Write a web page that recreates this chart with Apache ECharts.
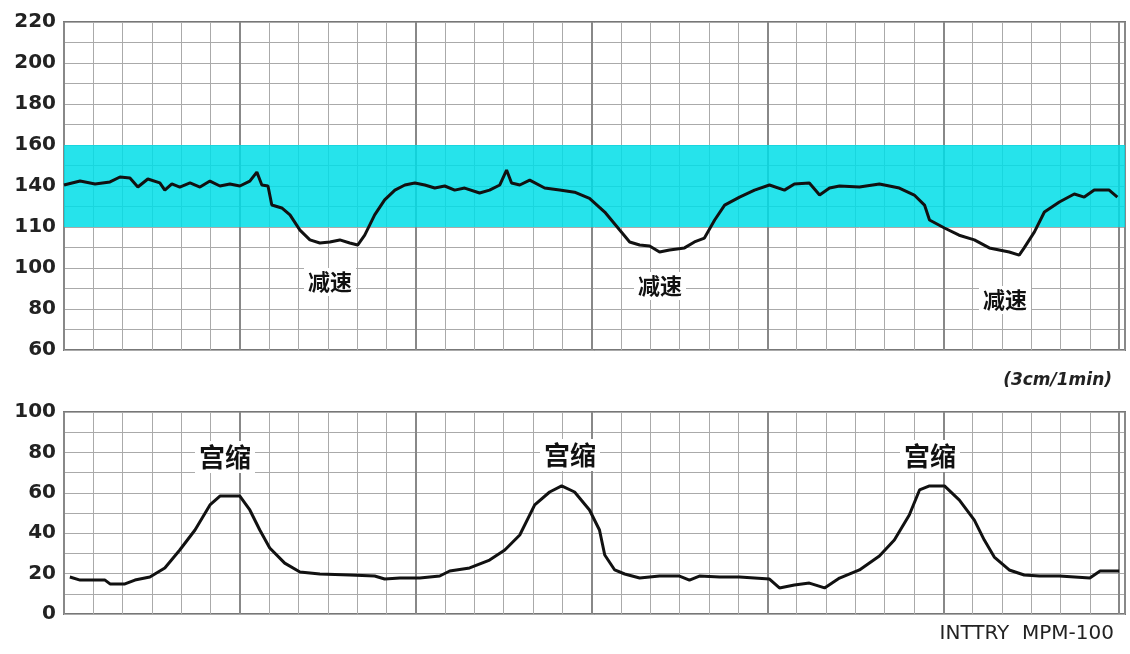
<!DOCTYPE html>
<html><head><meta charset="utf-8">
<script src="https://cdn.jsdelivr.net/npm/echarts@6/dist/echarts.min.js"></script>
<style>html,body{margin:0;padding:0;background:#fff}#c{width:1130px;height:654px}</style>
</head><body><div id="c"></div>
<script>
const hrX=[0,.55,1.06,1.57,1.91,2.25,2.52,2.86,3.27,3.44,3.68,3.95,4.3,4.64,4.98,5.32,5.66,6.0,6.34,6.58,6.75,6.96,7.09,7.43,7.71,8.05,8.39,8.73,9.07,9.41,9.75,10.02,10.26,10.6,10.94,11.29,11.63,11.97,12.31,12.65,12.99,13.33,13.67,14.18,14.52,14.87,15.1,15.27,15.55,15.89,16.4,16.91,17.42,17.93,18.45,18.96,19.3,19.64,19.98,20.32,20.66,21.17,21.51,21.85,22.2,22.54,23.05,23.56,24.07,24.58,24.92,25.43,25.78,26.12,26.46,27.14,27.82,28.5,29.01,29.36,29.53,30.04,30.54,31.06,31.57,31.91,32.25,32.59,32.76,33.11,33.45,33.96,34.47,34.81,35.15,35.66,35.94];
const hrY=[140.5,142.4,141,142,144.4,143.9,139.5,143.4,141.5,138,141,139.5,141.5,139.5,142.4,140,141,140,142.4,146.8,140.5,140,130.7,129.3,125.9,118.5,113.7,112.2,112.7,113.7,112.2,111.2,116,125.9,133.2,138,140.5,141.5,140.5,139,140,138,139,136.6,138,140.5,147.8,141.5,140.5,142.9,139,138,137,134,127.3,118.5,112.7,111.2,110.7,107.8,108.8,109.8,112.7,114.6,123.4,130.7,134.6,138,140.5,138,141,141.5,135.6,139,140,139.5,141,139,135.6,130.7,123.4,119.5,116,113.7,109.8,108.8,107.8,106.3,109.8,117.6,127.3,132.2,136.1,134.6,138,138,134.6];
const ucX=[.2,.55,1.4,1.57,2.08,2.42,2.93,3.44,3.95,4.47,4.98,5.32,6.0,6.34,6.68,7.02,7.53,8.05,8.73,9.75,10.6,10.94,11.46,12.14,12.82,13.16,13.84,14.52,15.04,15.55,16.06,16.57,16.98,17.42,17.93,18.27,18.45,18.79,19.13,19.64,20.32,21.0,21.34,21.68,22.37,23.05,24.07,24.41,24.92,25.43,25.95,26.46,27.14,27.82,28.33,28.84,29.19,29.53,30.04,30.55,31.06,31.4,31.74,32.25,32.76,33.28,33.96,35.0,35.35,36.0];
const ucY=[18.3,16.8,16.8,14.9,14.9,16.8,18.3,22.8,31.7,41.6,54,58.4,58.4,51.5,41.6,32.7,25.2,20.8,19.8,19.3,18.8,17.3,17.8,17.8,18.8,21.3,22.8,26.7,31.7,39.1,54,60.4,63.4,60.4,51.5,41.6,29.2,21.8,19.8,17.8,18.8,18.8,16.8,18.8,18.3,18.3,17.3,12.9,14.4,15.3,12.9,17.8,21.8,28.7,36.6,49,61.4,63.4,63.4,56.4,46.5,36.6,28.2,21.8,19.3,18.8,18.8,17.8,21.3,21.3];
const hrTicks={60:'60',80:'80',100:'100',120:'110',140:'140',160:'160',180:'180',200:'200',220:'220'};
const ucTicks={0:'0',20:'20',40:'40',60:'60',80:'80',100:'100'};
const decelLabels=[{t:'减速',x:330,y:282},{t:'减速',x:660,y:286},{t:'减速',x:1005,y:300}];
const contrLabels=[{t:'宫缩',x:225,y:457},{t:'宫缩',x:570,y:455},{t:'宫缩',x:930,y:456}];
const chart=echarts.init(document.getElementById('c'));
const lab={fontSize:20,fontWeight:'bold',color:'#222',fontFamily:'DejaVu Sans',margin:8};
function xa(g,iv,w,c){return {type:'value',gridIndex:g,min:0,max:36.2,interval:iv,axisLine:{show:false},axisTick:{show:false},axisLabel:{show:false},splitLine:{show:true,lineStyle:{color:c,width:w}}};}
function pts(X,Y){return X.map((x,i)=>[x,Y[i]]);}
const txt=(a,fs)=>a.map(o=>({type:'text',x:o.x,y:o.y,style:{text:o.t,fontSize:fs,fontWeight:'bold',fill:'#111',backgroundColor:'#fff',padding:[3,4],align:'center',verticalAlign:'middle',fontFamily:'Noto Sans CJK SC'},z:100}));
chart.setOption({
 animation:false,
 grid:[{left:64,top:22,width:1061,height:328,show:true,borderColor:'#777',borderWidth:2},
       {left:64,top:412,width:1061,height:202,show:true,borderColor:'#777',borderWidth:2}],
 xAxis:[xa(0,1,1,'#aaa'),xa(1,1,1,'#aaa'),xa(0,6,2,'#888'),xa(1,6,2,'#888')],
 yAxis:[{type:'value',gridIndex:0,min:60,max:220,interval:10,axisLine:{show:false},axisTick:{show:false},splitLine:{lineStyle:{color:'#aaa'}},axisLabel:Object.assign({},lab,{formatter:v=>hrTicks[v]||''})},
        {type:'value',gridIndex:1,min:0,max:100,interval:10,axisLine:{show:false},axisTick:{show:false},splitLine:{lineStyle:{color:'#aaa'}},axisLabel:Object.assign({},lab,{formatter:v=>ucTicks[v]!==undefined?ucTicks[v]:''})}],
 series:[
  {type:'line',xAxisIndex:0,yAxisIndex:0,data:pts(hrX,hrY),symbol:'none',lineStyle:{color:'#111',width:3},
   markArea:{silent:true,itemStyle:{color:'rgba(0,222,232,0.85)'},data:[[{yAxis:120},{yAxis:160}]]},z:5},
  {type:'line',xAxisIndex:1,yAxisIndex:1,data:pts(ucX,ucY),symbol:'none',lineStyle:{color:'#111',width:3}}
 ],
 graphic:[...txt(decelLabels,22),...txt(contrLabels,26),
  {type:'text',right:18,y:372,style:{text:'(3cm/1min)',fontSize:17,fontWeight:'bold',fontStyle:'italic',fill:'#222',fontFamily:'DejaVu Sans'}},
  {type:'text',right:16,y:624,style:{text:'INTTRY  MPM-100',fontSize:20,fill:'#222',fontFamily:'DejaVu Sans'}}]
});
</script></body></html>
